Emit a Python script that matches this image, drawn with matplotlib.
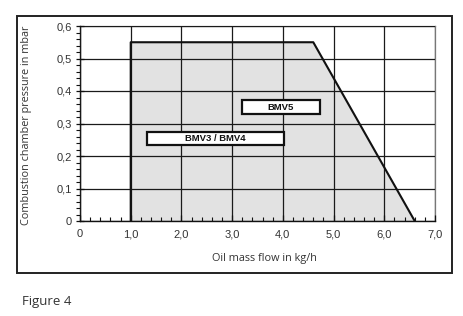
import matplotlib
matplotlib.use("Agg")
import matplotlib.pyplot as plt
from matplotlib.patches import Rectangle
from matplotlib.ticker import MultipleLocator, FixedLocator

# operating range of the burner (oil flow kg/h, pressure mbar)
flow = [1.0, 1.0, 4.6, 6.6]
pressure = [0.0, 0.55, 0.55, 0.0]

x_ticks = [0, 1, 2, 3, 4, 5, 6, 7]
x_tick_labels = ["0", "1,0", "2,0", "3,0", "4,0", "5,0", "6,0", "7,0"]
y_ticks = [0, 0.1, 0.2, 0.3, 0.4, 0.5, 0.6]
y_tick_labels = ["0", "0,1", "0,2", "0,3", "0,4", "0,5", "0,6"]

# model boxes: label, x0, x1, y0, y1
box_labels = ["BMV5", "BMV3 / BMV4"]
box_x0 = [3.19, 1.33]
box_x1 = [4.73, 4.02]
box_y0 = [0.329, 0.234]
box_y1 = [0.372, 0.275]

plt.rcParams["font.family"] = ["Open Sans", "DejaVu Sans"]

fig = plt.figure(figsize=(4.64, 3.16), dpi=100)
ax = fig.add_axes([80/464, 1 - 221/316, 355/464, 195/316])

# outer frame
fig.patches.append(Rectangle((17/464, 1 - 273/316), 435/464, 257/316,
                             transform=fig.transFigure, fill=False,
                             edgecolor="#222222", linewidth=1.4, zorder=0))

ax.fill(flow, pressure, color="#e2e2e2", zorder=1)
ax.plot(flow, pressure, color="#111111", linewidth=1.5, zorder=4, solid_capstyle="butt")

ax.set_xlim(0, 7)
ax.set_ylim(0, 0.6)
ax.xaxis.set_major_locator(FixedLocator(x_ticks))
ax.yaxis.set_major_locator(FixedLocator(y_ticks))
ax.set_xticklabels(x_tick_labels, family=["Liberation Sans", "DejaVu Sans"])
ax.set_yticklabels(y_tick_labels, family=["Liberation Sans", "DejaVu Sans"])
ax.xaxis.set_minor_locator(MultipleLocator(0.2))
ax.yaxis.set_minor_locator(MultipleLocator(0.02))

ax.grid(True, which="major", color="#1a1a1a", linewidth=0.9, zorder=2)
ax.set_axisbelow(False)
for s in ["top", "right"]:
    ax.spines[s].set_color("#777777")
    ax.spines[s].set_linewidth(0.9)
for s in ["left", "bottom"]:
    ax.spines[s].set_color("#111111")
    ax.spines[s].set_linewidth(1.0)

ax.tick_params(axis="x", which="both", direction="in", colors="#111111",
               labelcolor="#333333", labelsize=8, pad=6)
ax.tick_params(axis="x", which="major", length=4, width=0.9)
ax.tick_params(axis="x", which="minor", length=3, width=0.8)
ax.tick_params(axis="y", which="both", colors="#111111",
               labelcolor="#333333", labelsize=8, pad=3)
ax.tick_params(axis="y", which="major", direction="inout", length=6, width=0.9)
ax.tick_params(axis="y", which="minor", direction="out", length=3, width=0.8)

for lab, x0, x1, y0, y1 in zip(box_labels, box_x0, box_x1, box_y0, box_y1):
    ax.add_patch(Rectangle((x0, y0), x1 - x0, y1 - y0, facecolor="white",
                           edgecolor="#111111", linewidth=1.6, zorder=5))
    ax.text((x0 + x1) / 2, (y0 + y1) / 2, lab, ha="center", va="center",
            fontsize=6.8, fontweight="bold", family=["Liberation Sans", "DejaVu Sans"],
            color="#111111", zorder=6)

fig.text(27/464, 1 - 125/316, "Combustion chamber pressure in mbar", rotation=90,
         ha="center", va="center", fontsize=7.8, color="#333333")
fig.text(264/464, 1 - 259/316, "Oil mass flow in kg/h", ha="center", va="center",
         fontsize=7.8, color="#333333")
fig.text(22/464, 1 - 302/316, "Figure 4", ha="left", va="center",
         fontsize=9.5, color="#333333")

fig.savefig("out.png", dpi=100)
